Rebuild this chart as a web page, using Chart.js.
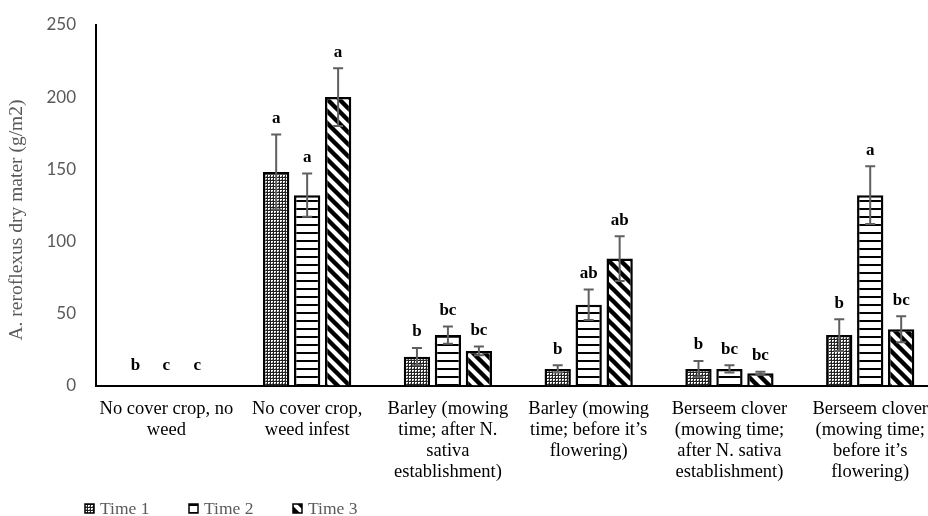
<!DOCTYPE html>
<html>
<head>
<meta charset="utf-8">
<script src="https://cdn.jsdelivr.net/npm/chart.js@4/dist/chart.umd.min.js"></script>
<style>
  html, body { margin: 0; padding: 0; background: #fff; overflow: hidden; }
  #wrap { width: 941px; height: 516px; }
</style>
</head>
<body>
<div id="wrap"><canvas id="chart" width="941" height="516"></canvas></div>
<script>
// data
const categories = [
  ["No cover crop, no", "weed"],
  ["No cover crop,", "weed infest"],
  ["Barley (mowing", "time; after N.", "sativa", "establishment)"],
  ["Barley (mowing", "time; before it\u2019s", "flowering)"],
  ["Berseem clover", "(mowing time;", "after N. sativa", "establishment)"],
  ["Berseem clover", "(mowing time;", "before it\u2019s", "flowering)"]
];
const seriesNames = ["Time 1", "Time 2", "Time 3"];
const time1 = [0, 148, 20, 11.5, 11.5, 35];
const time2 = [0, 132, 35, 56, 11.5, 132];
const time3 = [0, 200, 24, 88, 8.5, 39];
const err1 = [0, 26, 6, 2.5, 5.5, 11];
const err2 = [0, 15, 6, 10.5, 2.5, 20];
const err3 = [0, 20, 3, 15.5, 1, 9];
const letters1 = ["b", "a", "b", "b", "b", "b"];
const letters2 = ["c", "a", "bc", "ab", "bc", "a"];
const letters3 = ["c", "a", "bc", "ab", "bc", "bc"];
const yMax = 250;
const yStep = 50;

// fill patterns
function makePattern(kind) {
  const c = document.createElement("canvas");
  const g = c.getContext("2d");
  if (kind === 1) {
    c.width = 3; c.height = 3;
    g.fillStyle = "#fff"; g.fillRect(0, 0, 3, 3);
    g.fillStyle = "#222";
    g.fillRect(0, 0, 3, 1);
    g.fillRect(0, 0, 1, 3);
    g.fillStyle = "#888";
    g.fillRect(2, 2, 1, 1);
  } else if (kind === 2) {
    c.width = 8; c.height = 8;
    g.fillStyle = "#fff"; g.fillRect(0, 0, 8, 8);
    g.fillStyle = "#000"; g.fillRect(0, 0, 8, 2);
  } else {
    c.width = 12; c.height = 12;
    g.fillStyle = "#fff"; g.fillRect(0, 0, 12, 12);
    g.strokeStyle = "#000"; g.lineWidth = 4.4;
    g.beginPath();
    g.moveTo(-6, -6); g.lineTo(18, 18);
    g.moveTo(-6, 6); g.lineTo(6, 18);
    g.moveTo(6, -6); g.lineTo(18, 6);
    g.stroke();
  }
  return g.createPattern(c, "repeat");
}
const patterns = [makePattern(1), makePattern(2), makePattern(3)];

const values = [time1, time2, time3];
const errors = [err1, err2, err3];
const letters = [letters1, letters2, letters3];

// error bars, letters, y title and legend
const extras = {
  id: "extras",
  afterDatasetsDraw(chart) {
    const ctx = chart.ctx;
    const y = chart.scales.y;
    ctx.save();
    chart.data.datasets.forEach((ds, i) => {
      const meta = chart.getDatasetMeta(i);
      meta.data.forEach((bar, j) => {
        const v = values[i][j], e = errors[i][j];
        const x = bar.x;
        if (e > 0) {
          const yt = y.getPixelForValue(v + e);
          const yb = y.getPixelForValue(v - e);
          ctx.strokeStyle = "#5f5f5f";
          ctx.lineWidth = 2;
          ctx.beginPath();
          ctx.moveTo(x, yt); ctx.lineTo(x, yb);
          ctx.moveTo(x - 5, yt); ctx.lineTo(x + 5, yt);
          ctx.moveTo(x - 5, yb); ctx.lineTo(x + 5, yb);
          ctx.stroke();
        }
        const anchor = y.getPixelForValue(Math.max(v + e, 3));
        ctx.fillStyle = "#000";
        ctx.font = "bold 17px 'Liberation Serif'";
        ctx.textAlign = "center";
        ctx.textBaseline = "middle";
        ctx.fillText(letters[i][j], x, anchor - 16);
      });
    });

    // y axis title
    ctx.save();
    ctx.translate(17, 220);
    ctx.rotate(-Math.PI / 2);
    ctx.fillStyle = "#595959";
    ctx.font = "19.5px 'Liberation Serif'";
    ctx.textAlign = "center";
    ctx.textBaseline = "middle";
    ctx.fillText("A. reroflexus dry mater (g/m2)", 0, 0);
    ctx.restore();

    // legend
    const lx = [85, 189, 293];
    seriesNames.forEach((name, i) => {
      ctx.fillStyle = patterns[i];
      ctx.fillRect(lx[i], 504, 9, 9);
      ctx.strokeStyle = "#000";
      ctx.lineWidth = 1.5;
      ctx.strokeRect(lx[i], 504, 9, 9);
      ctx.fillStyle = "#595959";
      ctx.font = "17.5px 'Liberation Serif'";
      ctx.textAlign = "left";
      ctx.textBaseline = "middle";
      ctx.fillText(name, lx[i] + 15, 509);
    });
    ctx.restore();
  }
};

new Chart(document.getElementById("chart"), {
  type: "bar",
  data: {
    labels: categories,
    datasets: seriesNames.map((name, i) => ({
      label: name,
      data: values[i],
      backgroundColor: patterns[i],
      borderColor: "#000",
      borderWidth: 2.5,
      categoryPercentage: 0.66,
      barPercentage: 0.85
    }))
  },
  options: {
    responsive: false,
    animation: false,
    devicePixelRatio: 1,
    layout: { padding: { top: 25, left: 0, right: 0, bottom: 0 } },
    plugins: {
      legend: { display: false },
      tooltip: { enabled: false }
    },
    scales: {
      x: {
        grid: { display: false, drawTicks: false },
        border: { color: "#000", width: 2 },
        ticks: {
          color: "#000",
          font: { family: "'Liberation Serif'", size: 18.5, lineHeight: 1.14 },
          maxRotation: 0,
          minRotation: 0,
          autoSkip: false,
          padding: 13
        },
        afterFit: (s) => { s.height = 130.5; s.paddingTop = 0; }
      },
      y: {
        min: 0,
        max: yMax,
        grid: { display: false, drawTicks: false },
        border: { color: "#000", width: 2 },
        ticks: {
          stepSize: yStep,
          color: "#595959",
          font: { family: "Lato", size: 17 },
          padding: 20
        },
        afterFit: (s) => { s.width = 96; s.paddingTop = 0; s.paddingBottom = 0; }
      }
    }
  },
  plugins: [extras]
});
</script>
</body>
</html>
